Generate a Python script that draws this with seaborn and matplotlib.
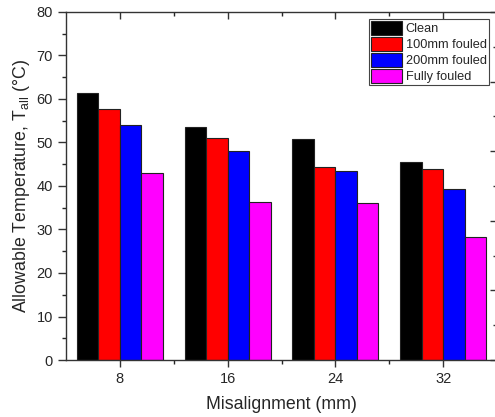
import matplotlib
matplotlib.use("Agg")
import matplotlib.pyplot as plt
from matplotlib.ticker import MultipleLocator, FixedLocator
import seaborn as sns
import pandas as pd

# Allowable temperature by misalignment and fouling condition
misalignment = ["8", "16", "24", "32"]
conditions = ["Clean", "100mm fouled", "200mm fouled", "Fully fouled"]
clean = [61.4, 53.6, 50.8, 45.6]
fouled_100 = [57.7, 51.0, 44.4, 43.9]
fouled_200 = [54.1, 48.1, 43.4, 39.3]
fully_fouled = [43.1, 36.4, 36.1, 28.3]
colors = ["#000000", "#ff0000", "#0000ff", "#ff00ff"]

series = [clean, fouled_100, fouled_200, fully_fouled]
df = pd.DataFrame(
    [(m, c, v) for c, vals in zip(conditions, series) for m, v in zip(misalignment, vals)],
    columns=["Misalignment", "Condition", "T"],
)

sns.set_style("ticks")
plt.rcParams["font.family"] = ["Liberation Sans", "DejaVu Sans"]

fig = plt.figure(figsize=(4.95, 4.17), dpi=100)
ax = fig.add_axes([66 / 495, 57 / 417, 431 / 495, 348 / 417])

sns.barplot(
    data=df, x="Misalignment", y="T", hue="Condition",
    order=misalignment, hue_order=conditions, palette=colors,
    width=0.8, edgecolor="#222222", linewidth=0.8, saturation=1,
    ax=ax,
)

ax.set_ylim(0, 80)
ax.set_xlim(-0.5, 3.5)
ax.yaxis.set_major_locator(MultipleLocator(10))
ax.yaxis.set_minor_locator(MultipleLocator(5))
ax.xaxis.set_minor_locator(FixedLocator([0.5, 1.5, 2.5]))

ax.set_xlabel("Misalignment (mm)", fontsize=12.8, labelpad=7)
ax.set_ylabel("Allowable Temperature, T$_{\\mathregular{all}}$ (°C)", fontsize=12.8, labelpad=3)

for s in ax.spines.values():
    s.set_color("#333333")
    s.set_linewidth(1.0)
    s.set_visible(True)

ax.tick_params(axis="both", which="major", labelsize=10.5, color="#333333")
ax.tick_params(axis="y", which="major", direction="out", length=6, width=1)
ax.tick_params(axis="y", which="minor", direction="out", length=3, width=1)
ax.tick_params(axis="x", which="major", direction="out", length=5, width=1,
               top=True, labeltop=False)
ax.tick_params(axis="x", which="minor", direction="out", length=3, width=1, top=True)
# top ticks point inward
for t in ax.xaxis.get_major_ticks() + ax.xaxis.get_minor_ticks():
    t.tick2line.set_marker(matplotlib.lines.TICKDOWN)

# secondary right axis ticks
ax2 = ax.twinx()
ax2.set_ylim(0, 100)
ax2.yaxis.set_major_locator(MultipleLocator(20))
ax2.yaxis.set_minor_locator(MultipleLocator(10))
ax2.tick_params(axis="y", which="major", direction="in", length=5, width=1,
                labelright=False, color="#333333")
ax2.tick_params(axis="y", which="minor", direction="in", length=3, width=1,
                color="#333333")
for s in ax2.spines.values():
    s.set_visible(False)

handles, labels = ax.get_legend_handles_labels()
ax.legend(
    handles, labels, loc="upper right",
    bbox_to_anchor=((488.7 - 66) / 431, (360 - 18.7) / 348),
    borderaxespad=0, fontsize=9.2, frameon=True, fancybox=False,
    edgecolor="#444444", framealpha=1, handlelength=2.4, handleheight=1.3,
    labelspacing=0.15, handletextpad=0.3, borderpad=0.15,
)
ax.legend_.get_frame().set_linewidth(0.8)

fig.savefig("out.png", dpi=100)
